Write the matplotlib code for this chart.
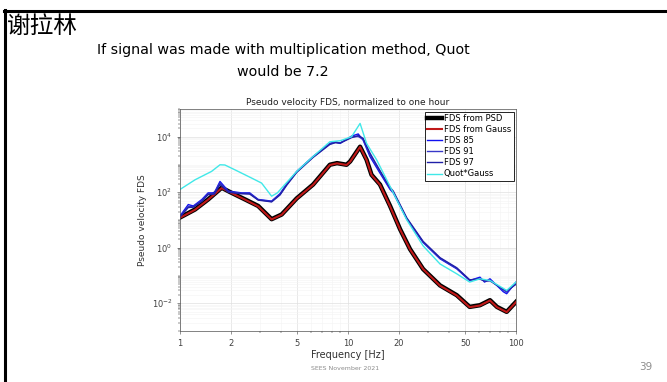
import matplotlib
matplotlib.use("Agg")
from matplotlib import pyplot as plt
from matplotlib.ticker import LogLocator, NullFormatter
import numpy as np

plt.rcParams['font.family'] = ['DejaVu Sans', 'Noto Sans CJK SC']

# FDS from PSD (the red "from Gauss" curve lies on top of it)
f_psd = [1, 1.23, 1.47, 1.77, 2.03, 2.44, 2.92, 3.51, 4.03, 4.95, 6.2, 7.8,
         8.6, 9.8, 10.3, 11.8, 12.9, 13.8, 15.5, 17.8, 20.4, 23.4, 28, 35.3,
         44.4, 53, 61, 70, 77, 88, 100]
fds_psd = [12.3, 24, 55, 145, 95, 55, 32, 10.7, 15.8, 60, 190, 980, 1120,
           980, 1290, 4370, 1480, 427, 190, 32, 4.7, 0.89, 0.17, 0.044,
           0.0195, 0.0074, 0.0085, 0.0129, 0.0074, 0.0049, 0.0112]
fds_gauss = [12.0, 23.5, 54, 141, 93, 54, 31, 10.5, 15.5, 59, 186, 960,
             1100, 960, 1260, 4300, 1450, 420, 186, 31, 4.6, 0.87, 0.17,
             0.043, 0.019, 0.0072, 0.0083, 0.0126, 0.0072, 0.0048, 0.0110]

f_blue = [1, 1.12, 1.2, 1.35, 1.47, 1.6, 1.73, 1.94, 2.33, 2.6, 2.92, 3.51,
          3.94, 4.32, 4.95, 6.2, 7.8, 8.4, 8.97, 10.5, 11.5, 12.3, 13.5,
          15.5, 17.8, 18.6, 22.4, 28, 35.3, 44.4, 53, 61, 65, 70, 84, 88, 100]
fds_85 = [14, 36, 32, 55, 95, 95, 245, 110, 95, 95, 55, 48, 89, 200, 560,
          1950, 5750, 6600, 5750, 10500, 12600, 7600, 1950, 490, 126, 95,
          10.7, 1.55, 0.40, 0.174, 0.066, 0.087, 0.058, 0.076, 0.026, 0.022,
          0.058]
fds_91 = [13, 31, 30, 50, 88, 90, 215, 104, 92, 90, 54, 46, 84, 190, 540,
          1880, 5500, 6300, 6000, 9800, 10200, 8100, 2300, 560, 140, 100,
          11.2, 1.6, 0.42, 0.18, 0.068, 0.078, 0.062, 0.068, 0.030, 0.025,
          0.052]
fds_97 = [13, 28, 29, 47, 82, 86, 190, 100, 88, 86, 52, 45, 80, 180, 520,
          1800, 5300, 6100, 5900, 9300, 11000, 8800, 2600, 600, 150, 110,
          11.8, 1.7, 0.44, 0.19, 0.070, 0.074, 0.064, 0.064, 0.032, 0.028,
          0.048]

f_quot = [1, 1.23, 1.54, 1.73, 1.85, 2.12, 2.67, 3.06, 3.51, 3.8, 4.21, 4.95,
          6.2, 7.8, 9.0, 10.5, 11.8, 12.9, 14.8, 17.8, 22.4, 28, 35.3, 44.4,
          53, 61, 70, 88, 100]
fds_quot = [126, 282, 562, 977, 960, 646, 324, 214, 72, 95, 190, 560, 1950,
            6600, 7200, 10000, 30200, 5750, 1480, 162, 10, 1.17, 0.26, 0.115,
            0.058, 0.076, 0.066, 0.029, 0.058]

fig = plt.figure(figsize=(6.67, 3.82), dpi=100)

# slide frame
fig.add_artist(plt.Line2D([5 / 667, 5 / 667], [0, 1 - 10 / 382], color='black', lw=2.2))
fig.add_artist(plt.Line2D([4 / 667, 1], [1 - 11 / 382, 1 - 11 / 382], color='black', lw=2.2))

fig.text(7 / 667, 1 - 26 / 382, "谢拉林", fontsize=17, va='center', ha='left',
         family=['Noto Sans CJK SC', 'DejaVu Sans'])
fig.text(283 / 667, 1 - 50 / 382, "If signal was made with multiplication method, Quot",
         fontsize=10.3, ha='center', va='center')
fig.text(283 / 667, 1 - 72 / 382, "would be 7.2", fontsize=10.3, ha='center', va='center')
fig.text(345 / 667, 1 - 368 / 382, "SEES November 2021", fontsize=4.5, color='#8c8c8c',
         ha='center', va='center')
fig.text(646 / 667, 1 - 367 / 382, "39", fontsize=7.5, color='#8c8c8c', ha='center', va='center')

ax = fig.add_axes([180 / 667, 1 - 331 / 382, 336 / 667, 222 / 382])
ax.plot(f_psd, fds_psd, color='black', lw=3.2, label='FDS from PSD')
ax.plot(f_psd, fds_gauss, color='#c01818', lw=1.5, label='FDS from Gauss')
ax.plot(f_blue, fds_85, color='#1010f0', lw=1.0, label='FDS 85')
ax.plot(f_blue, fds_91, color='#3838c8', lw=1.0, label='FDS 91')
ax.plot(f_blue, fds_97, color='#2020a8', lw=1.0, label='FDS 97')
ax.plot(f_quot, fds_quot, color='#40e8e8', lw=1.0, label='Quot*Gauss')

ax.set_xscale('log')
ax.set_yscale('log')
ax.set_xlim(1, 100)
ax.set_ylim(1e-3, 1e5)
ax.set_xticks([1, 2, 5, 10, 20, 50, 100])
ax.set_xticklabels(['1', '2', '5', '10', '20', '50', '100'])
ax.xaxis.set_minor_formatter(NullFormatter())
ax.set_yticks([1e-2, 1, 1e2, 1e4])
ax.yaxis.set_minor_locator(LogLocator(base=10, subs=np.arange(1, 10), numticks=20))
ax.yaxis.set_minor_formatter(NullFormatter())
ax.grid(True, which='major', color='#e0e0e0', lw=0.5)
ax.grid(True, which='minor', color='#f3f3f3', lw=0.4)
ax.tick_params(labelsize=6, colors='#404040', length=2, width=0.4)
ax.tick_params(which='minor', length=1.2, width=0.3)
for s in ax.spines.values():
    s.set_color('#505050')
    s.set_linewidth(0.5)

ax.set_title("Pseudo velocity FDS, normalized to one hour", fontsize=6.5,
             color='#202020', pad=3)
ax.set_xlabel("Frequency [Hz]", fontsize=7, color='#303030', labelpad=2)
ax.set_ylabel("Pseudo velocity FDS", fontsize=6.5, color='#303030', labelpad=3)

leg = ax.legend(loc='upper right', fontsize=6, handlelength=1.8, handletextpad=0.2,
                labelspacing=0.25, borderpad=0.3, fancybox=False,
                borderaxespad=0.3, framealpha=1)
leg.get_frame().set_edgecolor('black')
leg.get_frame().set_linewidth(0.6)

fig.savefig('out.png', dpi=100)
